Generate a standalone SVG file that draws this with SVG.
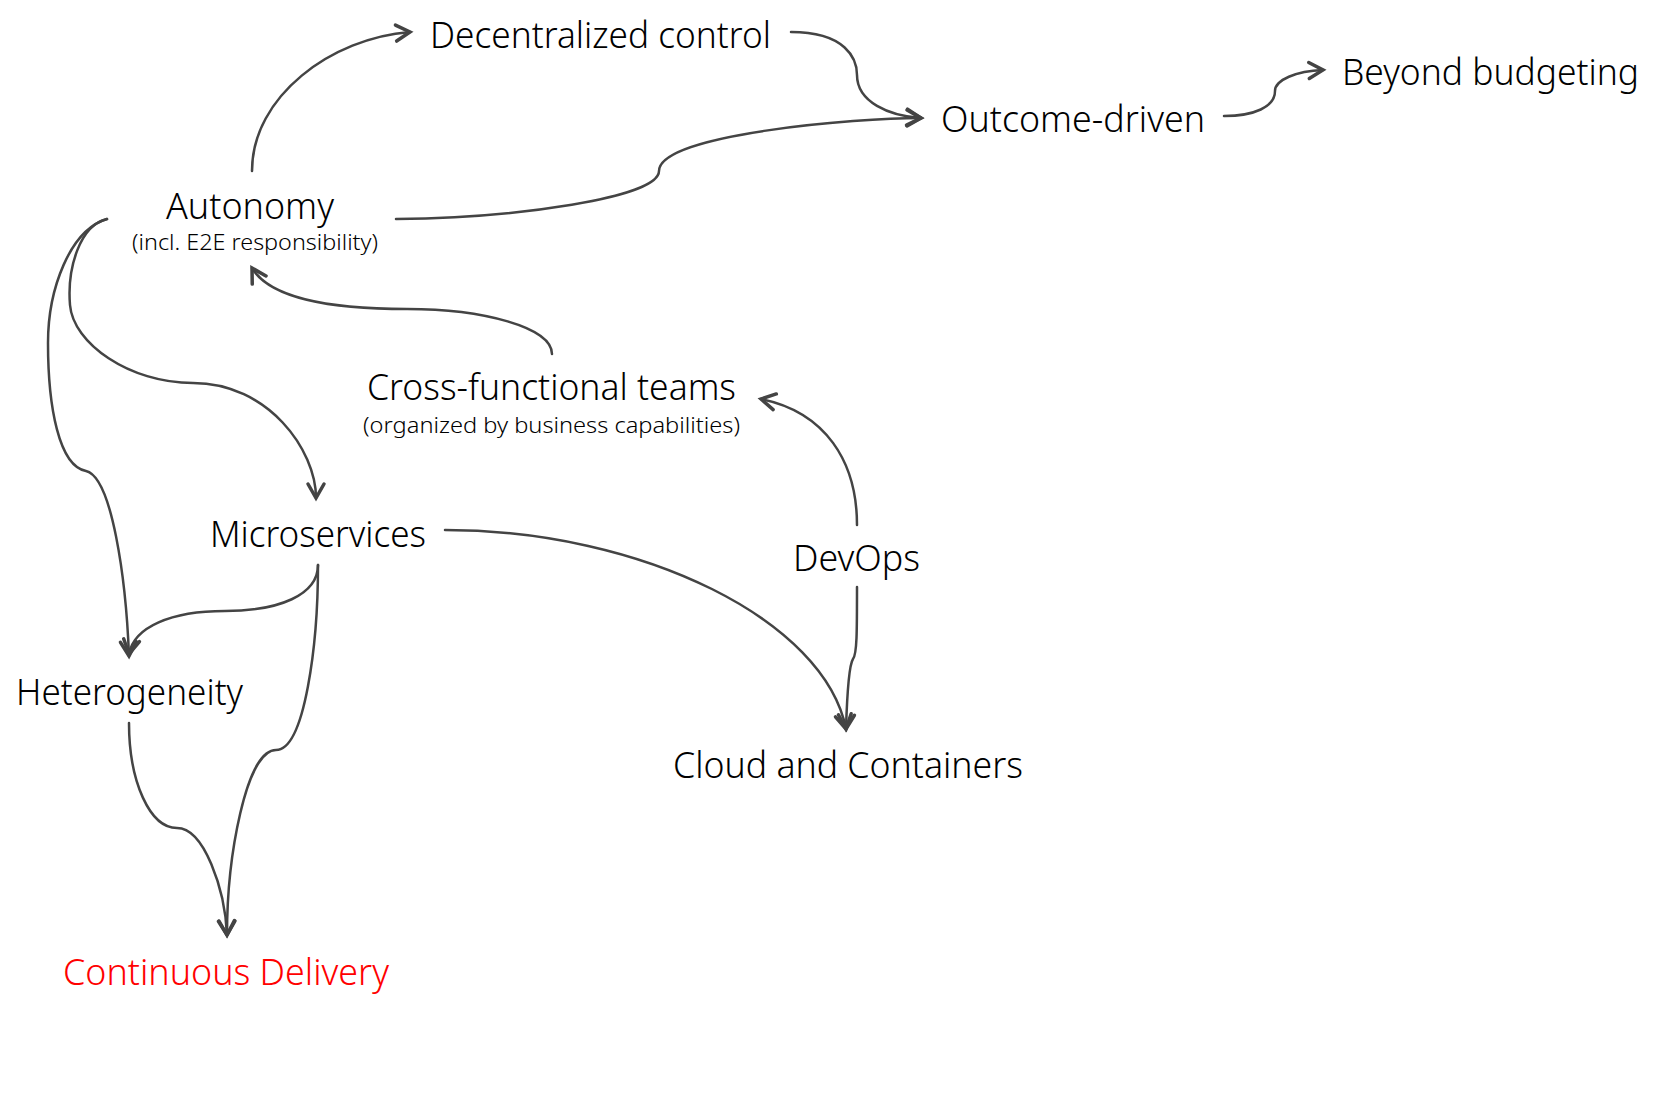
<svg xmlns="http://www.w3.org/2000/svg" width="1680" height="1120" viewBox="0 0 1680 1120">
<style>
  .lbl { font-family: "Noto Sans", "Open Sans", "DejaVu Sans", sans-serif; font-weight: 300; font-size: 36px; fill: #000; }
  .sub { font-family: "Noto Sans", "Open Sans", "DejaVu Sans", sans-serif; font-weight: 300; font-size: 22px; fill: #000; }
  .red { fill: #ff0000; }
  .edge { fill: none; stroke: #444; stroke-width: 2.5; stroke-linecap: round; marker-end: url(#arr); }
</style>
<defs>
  <marker id="arr" markerUnits="userSpaceOnUse" markerWidth="30" markerHeight="30" viewBox="-20 -15 30 30" refX="0" refY="0" orient="auto">
    <path d="M -14,-8 L 0,0 L -14,8" fill="none" stroke="#444" stroke-width="3.5" stroke-linecap="round" stroke-linejoin="miter"/>
  </marker>
</defs>
<rect width="1680" height="1120" fill="#fff"/>
<g id="connectors">
  <path class="edge" d="M 252,171 C 252,96 332,38 410,32"/>
  <path class="edge" d="M 791,32 C 846,32 857,59 857,75 C 857,102 889,116 921,118"/>
  <path class="edge" d="M 396,219 C 514,218 659,198 659,171 C 659,134 857,118 921,118"/>
  <path class="edge" d="M 1224,116 C 1254,116 1275,107 1275,91 C 1275,80 1296,71 1323,70"/>
  <path class="edge" d="M 552,354 C 552,327 482,309 407,309 C 321,309 268,295 252,268"/>
  <path class="edge" d="M 107,219 C 80,225 67,268 70,305 C 73,343 129,383 193,383 C 268,383 316,450 316,498"/>
  <path class="edge" d="M 107,219 C 70,230 48,289 48,343 C 48,407 59,466 86,471 C 112,477 126,579 129,656"/>
  <path class="edge" d="M 318,565 C 318,595 279,611 225,611 C 171,611 134,627 129,654"/>
  <path class="edge" d="M 318,565 C 318,643 305,750 276,750 C 246,750 227,857 227,935"/>
  <path class="edge" d="M 129,723 C 129,782 150,828 177,828 C 204,828 225,889 227,935"/>
  <path class="edge" d="M 445,530 C 643,530 825,621 846,729"/>
  <path class="edge" d="M 857,587 C 857,632 857,654 853,659 C 849,665 847,697 846,729"/>
  <path class="edge" d="M 857,525 C 857,461 825,412 761,399"/>
</g>
<g id="n-decentralized"><text class="lbl" x="430" y="48" textLength="341" lengthAdjust="spacingAndGlyphs">Decentralized control</text></g>
<g id="n-outcome"><text class="lbl" x="941" y="132" textLength="264" lengthAdjust="spacingAndGlyphs">Outcome-driven</text></g>
<g id="n-beyond"><text class="lbl" x="1342" y="85" textLength="297" lengthAdjust="spacingAndGlyphs">Beyond budgeting</text></g>
<g id="n-autonomy">
  <text class="lbl" x="166" y="219" textLength="168" lengthAdjust="spacingAndGlyphs">Autonomy</text>
  <text class="sub" x="132" y="250" textLength="246" lengthAdjust="spacingAndGlyphs">(incl. E2E responsibility)</text>
</g>
<g id="n-crossfunctional">
  <text class="lbl" x="367" y="400" textLength="369" lengthAdjust="spacingAndGlyphs">Cross-functional teams</text>
  <text class="sub" x="363" y="433" textLength="377" lengthAdjust="spacingAndGlyphs">(organized by business capabilities)</text>
</g>
<g id="n-microservices"><text class="lbl" x="210" y="547" textLength="216" lengthAdjust="spacingAndGlyphs">Microservices</text></g>
<g id="n-devops"><text class="lbl" x="793" y="571" textLength="127" lengthAdjust="spacingAndGlyphs">DevOps</text></g>
<g id="n-heterogeneity"><text class="lbl" x="16" y="705" textLength="227" lengthAdjust="spacingAndGlyphs">Heterogeneity</text></g>
<g id="n-cloud"><text class="lbl" x="673" y="778" textLength="350" lengthAdjust="spacingAndGlyphs">Cloud and Containers</text></g>
<g id="n-cd"><text class="lbl red" x="63" y="985" textLength="326" lengthAdjust="spacingAndGlyphs">Continuous Delivery</text></g>
</svg>
